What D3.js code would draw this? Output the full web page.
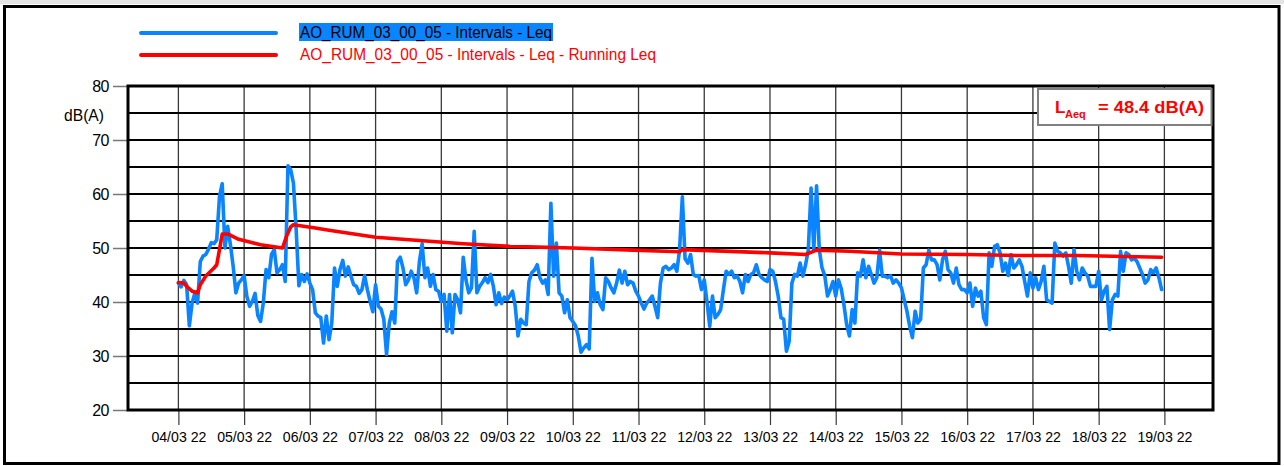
<!DOCTYPE html>
<html><head><meta charset="utf-8">
<script src="https://cdn.jsdelivr.net/npm/d3@7"></script>
<style>body{margin:0;background:#fff} svg{display:block}</style>
</head><body>
<svg id="c" width="1284" height="466"></svg>
<script>
// ---------------- data ----------------
const seriesNames = ["AO_RUM_03_00_05 - Intervals - Leq", "AO_RUM_03_00_05 - Intervals - Leq - Running Leq"];
const startTime = Date.UTC(2022, 2, 4, 0, 0); // first hourly interval
const intervalHours = 1;
const intervalLeq = [
43.5,42.8,44.0,43.2,35.6,39.8,41.6,39.8,47.5,48.5,
48.8,49.8,51.0,50.8,51.5,59.5,61.9,50.0,54.0,50.6,
46.6,41.7,43.5,44.1,44.9,41.0,39.2,40.1,41.6,37.5,
36.4,39.8,46.0,44.5,48.8,49.7,45.4,46.0,46.9,43.8,
65.2,64.5,62.0,53.4,43.0,45.1,43.8,45.2,43.5,42.3,
38.0,37.4,37.1,32.4,37.4,33.0,36.1,46.3,42.9,46.0,
47.7,44.8,46.5,44.8,43.2,42.9,41.6,42.3,44.9,42.3,
40.1,38.2,43.2,39.2,38.7,36.8,30.3,36.1,38.2,36.1,
47.5,48.3,46.3,43.2,44.1,45.7,44.5,41.7,47.5,50.8,
44.5,46.3,42.9,45.1,42.3,42.0,40.1,41.4,34.6,41.4,
34.3,41.4,40.4,38.0,48.3,44.1,41.7,42.6,53.1,41.7,
42.9,43.6,44.5,43.6,45.1,42.9,39.5,41.7,39.7,40.9,
40.4,41.1,42.0,39.2,33.7,36.8,36.1,35.8,43.8,45.4,
45.9,46.9,44.5,43.5,44.1,41.4,58.3,44.8,50.9,41.7,
41.1,38.0,40.4,37.1,36.4,35.6,33.7,30.7,31.5,32.1,
31.3,48.1,40.1,41.7,39.5,38.6,44.5,43.8,42.6,41.7,
43.5,45.9,43.5,45.7,43.2,43.8,43.5,42.0,41.1,39.8,
38.7,39.8,40.4,41.1,39.2,37.1,43.5,46.3,46.6,46.0,
46.3,46.9,45.7,49.7,59.5,48.0,47.2,48.8,45.1,44.8,
44.9,42.3,44.1,40.1,35.5,41.1,37.1,37.7,38.6,42.3,
45.7,45.1,45.7,44.5,44.8,43.8,41.7,45.1,43.8,45.1,
45.4,46.9,45.1,44.5,44.1,43.8,46.0,45.7,43.8,41.1,
37.1,36.8,30.9,32.7,43.5,45.1,44.8,47.2,44.8,46.9,
49.7,61.1,49.7,61.5,49.7,46.3,44.9,41.1,42.3,43.8,
41.1,44.1,42.5,39.5,35.8,33.7,38.6,36.1,45.4,44.8,
47.8,44.5,46.6,45.1,43.5,44.5,49.6,44.8,44.8,44.5,
44.9,43.5,44.1,43.5,42.6,40.4,38.3,35.5,33.4,38.3,
36.1,36.8,46.3,46.9,49.6,47.8,47.8,46.9,44.1,47.8,
49.4,46.0,45.4,43.5,46.3,43.2,42.3,42.3,41.7,43.5,
39.2,42.6,41.1,42.0,37.1,35.8,49.1,46.6,50.3,50.6,
49.1,45.7,47.2,44.9,48.8,46.3,46.9,47.8,46.6,43.8,
41.1,45.4,42.6,44.5,42.3,43.8,46.6,40.4,40.1,39.8,
50.9,49.4,49.1,48.5,49.1,46.6,43.5,49.7,45.7,44.1,
46.3,45.4,44.8,42.9,42.9,42.9,45.7,40.4,42.0,42.9,
34.9,40.4,41.4,41.1,49.4,45.7,49.1,48.8,47.8,48.1,
47.5,46.3,45.1,43.5,44.1,46.0,45.4,46.3,44.5,42.3
];
// running Leq read at these hours after the start
const runningHours = [0,2,3,5,7,8,10,13,14,15,16,18,22,30,38,39.5,41,42,50,55,72,88,104,121,144,166,183,184,216,229,233,245,264,288,307,328,359];
const runningLeq   = [43.6,43.5,42.9,42.0,41.7,43.2,44.8,46.3,46.9,49.7,52.6,52.6,51.6,50.6,50.0,52.2,53.9,54.3,53.7,53.3,52.0,51.4,50.8,50.3,50.0,49.6,49.3,49.7,49.1,48.8,49.6,49.4,48.9,48.8,48.6,48.6,48.3];
const yTickValues = [20,30,40,50,60,70,80];
const yGridValues = [25,30,35,40,45,50,55,60,65,70,75];
const dayTicks = d3.range(4, 20).map(d => new Date(Date.UTC(2022, 2, d)));
const overallLaeq = 48.4;
const yUnit = "dB(A)";

// ---------------- drawing ----------------
const svg = d3.select("#c");
const FONT = "'Liberation Sans', Arial, sans-serif";
const P = {left:128, right:1213, top:86, bottom:410};

const x = d3.scaleUtc()
  .domain([new Date(Date.UTC(2022,2,3,5,36)), new Date(Date.UTC(2022,2,19,17,45))])
  .range([P.left, P.right]);
const y = d3.scaleLinear().domain([20, 80]).range([P.bottom, P.top]);

// outer frame
svg.append("rect").attr("x",0).attr("y",0).attr("width",1284).attr("height",4).attr("fill","#e4e4e4");
svg.append("rect").attr("x",4.5).attr("y",6.5).attr("width",1274.5).attr("height",457)
  .attr("fill","#fff").attr("stroke","#000").attr("stroke-width",3);

// legend
const leg = svg.append("g");
leg.append("line").attr("x1",141).attr("x2",276).attr("y1",33).attr("y2",33)
  .attr("stroke","#0a84ff").attr("stroke-width",4).attr("stroke-linecap","round");
leg.append("line").attr("x1",141).attr("x2",276).attr("y1",55).attr("y2",55)
  .attr("stroke","#ff0000").attr("stroke-width",4).attr("stroke-linecap","round");
leg.append("rect").attr("x",299).attr("y",23).attr("width",254).attr("height",18).attr("fill","#0a84ff");
leg.append("text").attr("x",300).attr("y",37.5).text(seriesNames[0])
  .attr("font-family",FONT).attr("font-size",16).attr("fill","#000")
  .attr("textLength",252).attr("lengthAdjust","spacingAndGlyphs");
leg.append("text").attr("x",300).attr("y",59.5).text(seriesNames[1])
  .attr("font-family",FONT).attr("font-size",16).attr("fill","#ff0000")
  .attr("textLength",356).attr("lengthAdjust","spacingAndGlyphs");

// vertical grid (days)
svg.append("g").selectAll("line").data(dayTicks).join("line")
  .attr("x1",d=>x(d)).attr("x2",d=>x(d)).attr("y1",P.top).attr("y2",P.bottom)
  .attr("stroke","#3a3a3a").attr("stroke-width",1.3);
// horizontal grid
svg.append("g").selectAll("line").data(yGridValues).join("line")
  .attr("x1",P.left).attr("x2",P.right).attr("y1",d=>y(d)).attr("y2",d=>y(d))
  .attr("stroke","#000").attr("stroke-width",2);

// x axis
const xAxis = d3.axisBottom(x).tickValues(dayTicks).tickFormat(d3.utcFormat("%d/%m %y"))
  .tickSize(15).tickPadding(4);
const gx = svg.append("g").attr("transform",`translate(0,${P.bottom})`).call(xAxis);
gx.select(".domain").remove();
gx.selectAll(".tick line").attr("stroke","#3a3a3a").attr("stroke-width",1.2);
gx.selectAll(".tick text").attr("font-family",FONT).attr("font-size",14).attr("fill","#000")
  .attr("dy","0.95em").attr("textLength",55).attr("lengthAdjust","spacingAndGlyphs");

// y axis
const yAxis = d3.axisLeft(y).tickValues(yTickValues).tickSize(15).tickPadding(4);
const gy = svg.append("g").attr("transform",`translate(${P.left},0)`).call(yAxis);
gy.select(".domain").remove();
gy.selectAll(".tick line").attr("stroke","#777").attr("stroke-width",1.5);
gy.selectAll(".tick text").attr("font-family",FONT).attr("font-size",16).attr("fill","#000")
  .attr("letter-spacing","-0.5");
svg.append("text").attr("x",64).attr("y",120.5).text(yUnit)
  .attr("font-family",FONT).attr("font-size",16).attr("fill","#000")
  .attr("textLength",40).attr("lengthAdjust","spacingAndGlyphs");

// clip
svg.append("clipPath").attr("id","plotclip").append("rect")
  .attr("x",P.left).attr("y",P.top).attr("width",P.right-P.left).attr("height",P.bottom-P.top);

// blue interval Leq
const hourDate = h => new Date(startTime + h*intervalHours*3600e3);
const lineBlue = d3.line().x((d,i)=>x(hourDate(i))).y(d=>y(d));
svg.append("path").datum(intervalLeq).attr("d",lineBlue).attr("clip-path","url(#plotclip)")
  .attr("fill","none").attr("stroke","#0a84ff").attr("stroke-width",3.6)
  .attr("stroke-linejoin","round").attr("stroke-linecap","round");

// red running Leq
const lineRed = d3.line().x(d=>x(hourDate(d[0]))).y(d=>y(d[1]));
svg.append("path").datum(d3.zip(runningHours, runningLeq)).attr("d",lineRed).attr("clip-path","url(#plotclip)")
  .attr("fill","none").attr("stroke","#ff0000").attr("stroke-width",3.6)
  .attr("stroke-linejoin","round").attr("stroke-linecap","round");

// plot frame
svg.append("rect").attr("x",P.left).attr("y",P.top).attr("width",P.right-P.left).attr("height",P.bottom-P.top)
  .attr("fill","none").attr("stroke","#000").attr("stroke-width",3);

// LAeq box
const bx = 1038, by = 89;
svg.append("rect").attr("x",bx).attr("y",by).attr("width",P.right-1.5-bx).attr("height",36)
  .attr("fill","#fff").attr("stroke","#808080").attr("stroke-width",2);
const lt = svg.append("text").attr("font-family",FONT).attr("font-weight","bold").attr("fill","#ff0000");
lt.append("tspan").attr("x",1055).attr("y",113.3).attr("font-size",17).text("L");
lt.append("tspan").attr("x",1065).attr("y",117.5).attr("font-size",11).text("Aeq");
lt.append("tspan").attr("x",1098).attr("y",113.3).attr("font-size",17)
  .attr("textLength",106).attr("lengthAdjust","spacingAndGlyphs")
  .text(`= ${overallLaeq.toFixed(1)} dB(A)`);
</script>
</body></html>
